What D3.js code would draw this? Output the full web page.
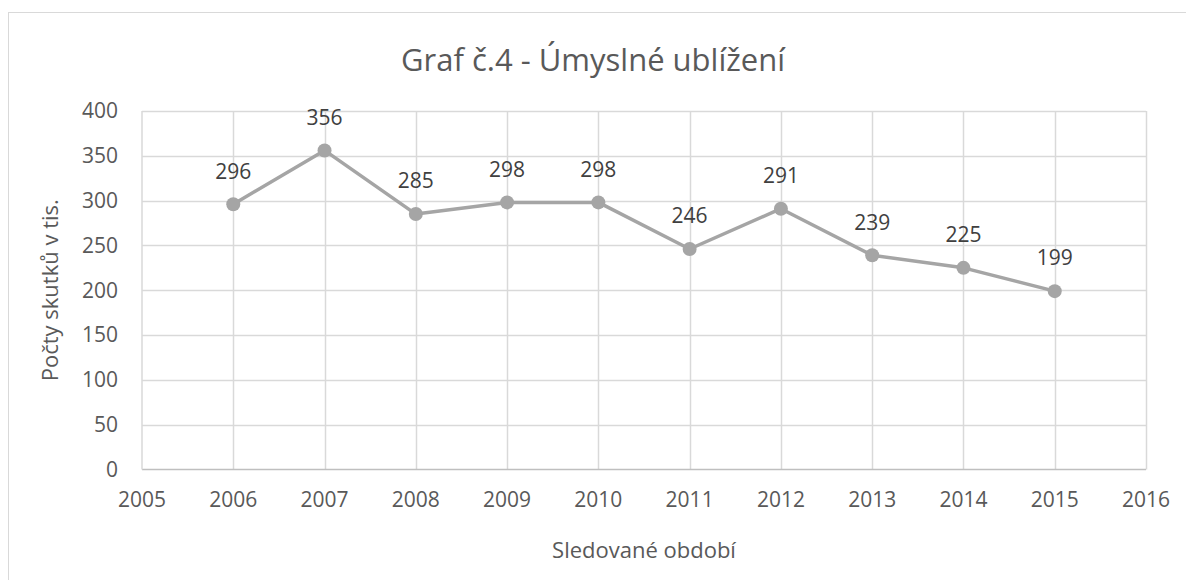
<!DOCTYPE html>
<html>
<head>
<meta charset="utf-8">
<script src="https://cdn.jsdelivr.net/npm/d3@7"></script>
<style>
	body { margin: 0; background: #fff; }
	text { font-family: "Open Sans", sans-serif; }
</style>
</head>
<body>
<script>
// data
let years = [2006, 2007, 2008, 2009, 2010, 2011, 2012, 2013, 2014, 2015];
let counts = [296, 356, 285, 298, 298, 246, 291, 239, 225, 199];
let yTicks = [0, 50, 100, 150, 200, 250, 300, 350, 400];
let xTicks = [2005, 2006, 2007, 2008, 2009, 2010, 2011, 2012, 2013, 2014, 2015, 2016];
let chartTitle = 'Graf č.4 - Úmyslné ublížení';
let xTitle = 'Sledované období';
let yTitle = 'Počty skutků v tis.';

let width = 1186, height = 580;

let svg = d3.select('body').append('svg')
	.attr('width', width)
	.attr('height', height);

//chart border
svg.append('rect')
	.attr('x', 8.5)
	.attr('y', 12.5)
	.attr('width', 1200)
	.attr('height', 600)
	.attr('fill', 'none')
	.attr('stroke', '#d9d9d9');

//scales
let xScale = d3.scaleLinear()
	.domain([2005, 2016])
	.range([142, 1146]);

let yScale = d3.scaleLinear()
	.domain([0, 400])
	.range([469.5, 111]);

//gridlines
svg.append('g')
	.selectAll('line')
	.data(yTicks.slice(1))
	.enter()
	.append('line')
	.attr('x1', xScale(2005))
	.attr('x2', xScale(2016))
	.attr('y1', d => Math.round(yScale(d)) + 0.5)
	.attr('y2', d => Math.round(yScale(d)) + 0.5)
	.attr('stroke', '#d9d9d9')
	.attr('stroke-width', 1.5);

svg.append('g')
	.selectAll('line')
	.data(xTicks.slice(1))
	.enter()
	.append('line')
	.attr('x1', d => Math.round(xScale(d)) + 0.5)
	.attr('x2', d => Math.round(xScale(d)) + 0.5)
	.attr('y1', yScale(400))
	.attr('y2', yScale(0))
	.attr('stroke', '#d9d9d9')
	.attr('stroke-width', 1.5);

//axis lines
svg.append('line')
	.attr('x1', xScale(2005)).attr('x2', xScale(2016))
	.attr('y1', yScale(0)).attr('y2', yScale(0))
	.attr('stroke', '#bfbfbf')
	.attr('stroke-width', 1.5);

svg.append('line')
	.attr('x1', xScale(2005)).attr('x2', xScale(2005))
	.attr('y1', yScale(0)).attr('y2', yScale(400))
	.attr('stroke', '#d9d9d9')
	.attr('stroke-width', 1.5);

//tick labels
svg.append('g')
	.selectAll('text')
	.data(yTicks)
	.enter()
	.append('text')
	.attr('x', 118)
	.attr('y', d => yScale(d))
	.attr('dy', '0.35em')
	.attr('text-anchor', 'end')
	.attr('font-size', '21px')
	.attr('fill', '#595959')
	.text(d => d);

svg.append('g')
	.selectAll('text')
	.data(xTicks)
	.enter()
	.append('text')
	.attr('x', d => xScale(d))
	.attr('y', 500)
	.attr('dy', '0.35em')
	.attr('text-anchor', 'middle')
	.attr('font-size', '21px')
	.attr('fill', '#595959')
	.text(d => d);

//line and markers
let points = years.map((y, i) => ({year: y, value: counts[i]}));

let line = d3.line()
	.x(d => xScale(d.year))
	.y(d => yScale(d.value));

svg.append('path')
	.datum(points)
	.attr('d', line)
	.attr('fill', 'none')
	.attr('stroke', '#a5a5a5')
	.attr('stroke-width', 3.5)
	.attr('stroke-linejoin', 'round');

svg.append('g')
	.selectAll('circle')
	.data(points)
	.enter()
	.append('circle')
	.attr('cx', d => xScale(d.year))
	.attr('cy', d => yScale(d.value))
	.attr('r', 7)
	.attr('fill', '#a5a5a5');

//data labels
svg.append('g')
	.selectAll('text')
	.data(points)
	.enter()
	.append('text')
	.attr('x', d => xScale(d.year))
	.attr('y', d => yScale(d.value) - 33)
	.attr('dy', '0.35em')
	.attr('text-anchor', 'middle')
	.attr('font-size', '21px')
	.attr('fill', '#404040')
	.text(d => d.value);

//titles
svg.append('text')
	.attr('x', 593)
	.attr('y', 60)
	.attr('dy', '0.35em')
	.attr('text-anchor', 'middle')
	.attr('font-size', '31px')
	.attr('fill', '#595959')
	.text(chartTitle);

svg.append('text')
	.attr('x', (xScale(2005) + xScale(2016)) / 2)
	.attr('y', 550)
	.attr('dy', '0.35em')
	.attr('text-anchor', 'middle')
	.attr('font-size', '22px')
	.attr('fill', '#595959')
	.text(xTitle);

svg.append('text')
	.attr('transform', 'translate(50,' + (yScale(0) + yScale(400)) / 2 + ') rotate(-90)')
	.attr('dy', '0.35em')
	.attr('text-anchor', 'middle')
	.attr('font-size', '22px')
	.attr('fill', '#595959')
	.text(yTitle);
</script>
</body>
</html>
